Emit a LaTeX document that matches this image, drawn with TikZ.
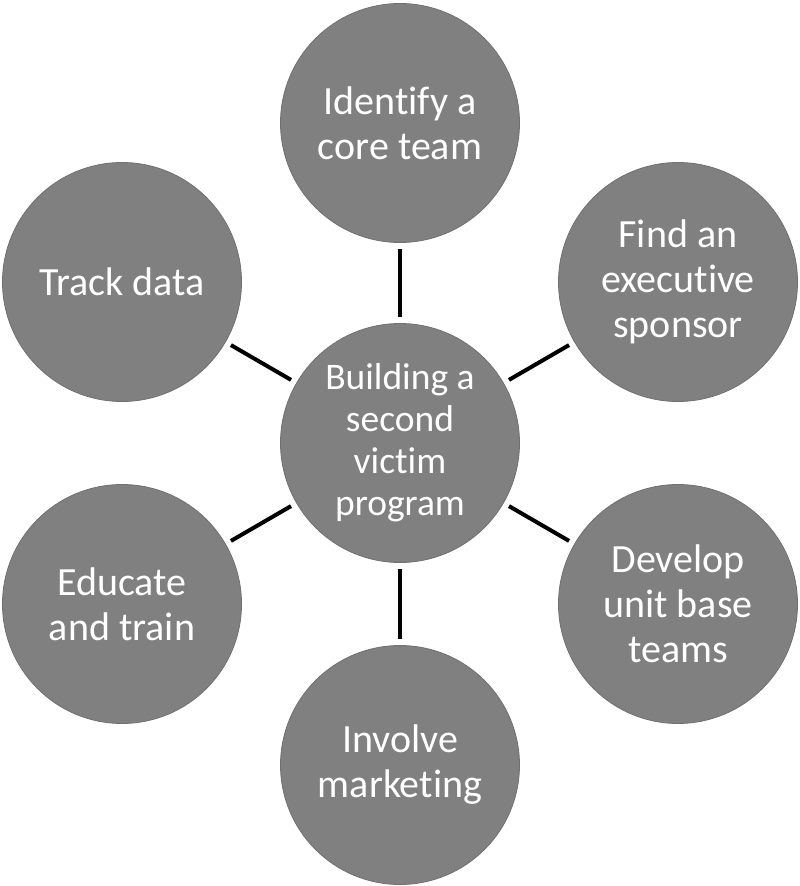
\documentclass[tikz,border=0pt]{standalone}
\usepackage{fontspec}
\setmainfont{Carlito}[Ligatures=NoCommon]
\definecolor{discfill}{RGB}{128,128,128}
\definecolor{discedge}{RGB}{112,112,112}
\tikzset{
  disc/.style={circle, minimum size=239pt, inner sep=0pt, fill=discfill, draw=discedge,
    line width=0.8pt, text=white, align=center,
    font=\fontsize{40}{45}\selectfont},
  hubdisc/.style={disc, font=\fontsize{37.5}{42}\selectfont},
  conn/.style={draw=black, line width=4pt, shorten <=6pt, shorten >=6pt}
}
\begin{document}
\begin{tikzpicture}[x=1pt,y=-1pt]
\useasboundingbox (0,0) rectangle (800,886);
\node[hubdisc] (hub) at (400,443) {Building a\\second\\victim\\program};
\node[disc] (top) at (400,123) {Identify a\\core team};
\node[disc] (tr) at (678,282) {Find an\\executive\\sponsor};
\node[disc] (br) at (678,604) {Develop\\unit base\\teams};
\node[disc] (bot) at (400,765) {Involve\\marketing};
\node[disc] (bl) at (122,604) {Educate\\and train};
\node[disc] (tl) at (122,282) {Track data};
\draw[conn] (hub) -- (top);
\draw[conn] (hub) -- (tr);
\draw[conn] (hub) -- (br);
\draw[conn] (hub) -- (bot);
\draw[conn] (hub) -- (bl);
\draw[conn] (hub) -- (tl);
\end{tikzpicture}
\end{document}
